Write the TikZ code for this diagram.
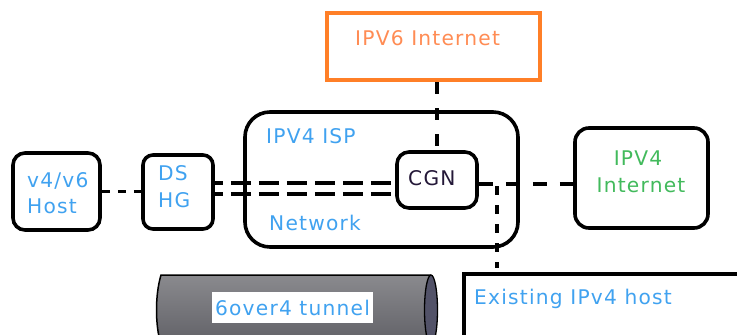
\documentclass[tikz,border=0pt]{standalone}
\usepackage{fontspec}
\setmainfont{DejaVu Sans}
\newfontfamily\lblfont{DejaVu Sans}[LetterSpace=6]
\usetikzlibrary{calc}

\definecolor{lblblue}{RGB}{64,162,240}
\definecolor{lblgreen}{RGB}{66,186,92}
\definecolor{lblorange}{RGB}{255,140,84}
\definecolor{boxorange}{RGB}{255,127,39}
\definecolor{cgntext}{RGB}{36,24,56}
\definecolor{tubelight}{RGB}{138,138,142}
\definecolor{tubedark}{RGB}{96,96,102}
\definecolor{tubeend}{RGB}{82,82,104}

\tikzset{
  rbox/.style={draw, line width=3.6pt, rounded corners=12pt, inner sep=0pt},
  sqbox/.style={draw, line width=3.6pt, inner sep=0pt},
  lblsize/.style={font=\lblfont\fontsize{20.2}{24}\selectfont},
  lbl/.style={inner sep=0pt, anchor=base west, text=lblblue, lblsize},
  conn/.style={line width=3.8pt},
}

\begin{document}
\begin{tikzpicture}[x=1pt,y=-1pt]
  \clip (0,0) rectangle (737,335);
  \fill[white] (0,0) rectangle (737,335);

  % ---- boxes ----
  \node[rbox, minimum width=87pt, minimum height=77pt] (host) at (56.5,191.5) {};
  \node[rbox, rounded corners=10pt, minimum width=70pt, minimum height=74pt] (dshg) at (178,192) {};
  \node[rbox, rounded corners=25pt, minimum width=273pt, minimum height=135pt] (isp) at (381.5,179.5) {};
  \node[rbox, minimum width=80pt, minimum height=56pt] (cgn) at (437,180) {};
  \node[rbox, rounded corners=14pt, minimum width=133pt, minimum height=100pt] (v4net) at (641.5,178) {};
  \node[sqbox, draw=boxorange, line width=4.5pt, minimum width=213pt, minimum height=67pt] (v6net) at (433.5,46.5) {};
  \node[sqbox, minimum width=300pt, minimum height=90pt, anchor=north west] (exist) at (462,272) {};

  % ---- labels ----
  \node[lbl] (hostA) at (27,187) {v4/v6};
  \node[lbl] (hostB) at (27,213) {Host};
  \node[lbl] (dsA) at (158,180) {DS};
  \node[lbl] (dsB) at (158,207) {HG};
  \node[lbl] (ispA) at (266,143) {IPV4 ISP};
  \node[lbl] (ispB) at (269,230) {Network};
  \node[lbl, text=cgntext] (cgnlbl) at (408,185) {CGN};
  \node[lbl, anchor=base, text=lblgreen] (v4A) at (638,165) {IPV4};
  \node[lbl, anchor=base, text=lblgreen] (v4B) at (641,192) {Internet};
  \node[lbl, text=lblorange] (v6lbl) at (355,45) {IPV6 Internet};
  \node[lbl] (existlbl) at (474,304) {Existing IPv4 host};

  % ---- connectors ----
  \coordinate (dA) at ($(dshg.east)+(0,-9)$);
  \coordinate (dB) at ($(dshg.east)+(0,2)$);
  \coordinate (cA) at ($(cgn.east)+(0,4)$);
  \coordinate (tap) at ($(cgn.east)+(18,6)$);

  \draw[conn, dash pattern=on 8pt off 8pt]
    (host.east) -- (host.east -| dshg.west);
  \draw[conn, dash pattern=on 20pt off 8pt, dash phase=12pt]
    (dA) -- (dA -| cgn.west);
  \draw[conn, dash pattern=on 20pt off 8pt, dash phase=12pt]
    (dB) -- (dB -| cgn.west);
  \draw[conn, dash pattern=on 12pt off 14pt]
    (v6net.south -| cgn.north) -- (cgn.north);
  \draw[conn, dash pattern=on 14pt off 13pt]
    (cA) -- (cA -| v4net.west);
  \draw[conn, dash pattern=on 9pt off 10pt]
    (tap) -- ($(tap |- exist.north)+(0,-4)$);

  % ---- 6over4 tunnel ----
  \path[top color=tubelight, bottom color=tubedark]
    (161,275) -- (431,275) -- (431,345) -- (161,345)
    .. controls (155,325) and (155,295) .. cycle;
  \draw[line width=1.5pt] (431,275) -- (161,275)
    .. controls (155,295) and (155,325) .. (161,345);
  \draw[line width=1.3pt, fill=tubeend] (431,310) ellipse [x radius=6.5, y radius=35];
  \node[fill=white, inner sep=0pt, minimum width=161pt, minimum height=31pt,
    text=lblblue, lblsize] (tunnel) at (292.5,307.5) {6over4 tunnel};
\end{tikzpicture}
\end{document}
